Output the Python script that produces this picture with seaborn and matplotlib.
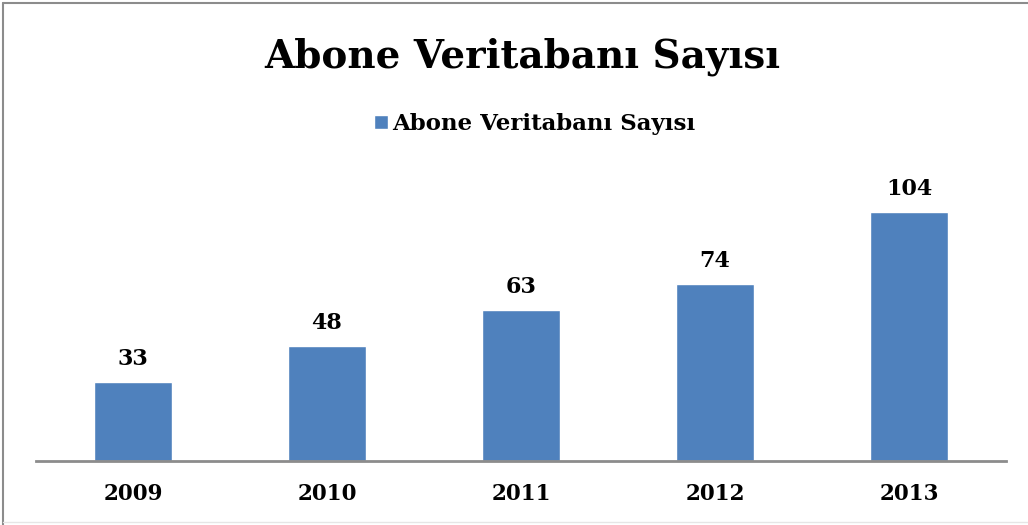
import matplotlib
matplotlib.use("Agg")
import matplotlib.pyplot as plt
import seaborn as sns
import pandas as pd
from matplotlib.lines import Line2D

years = ["2009", "2010", "2011", "2012", "2013"]
counts = [33, 48, 63, 74, 104]
series_name = "Abone Veritabanı Sayısı"
title = "Abone Veritabanı Sayısı"

sns.set_style("white")
plt.rcParams["font.family"] = ["DejaVu Serif"]
plt.rcParams["font.weight"] = "bold"
plt.rcParams["text.color"] = "black"
plt.rcParams["xtick.color"] = "black"

df = pd.DataFrame({"year": years, "count": counts})

fig = plt.figure(figsize=(10.28, 5.25), dpi=100)
ax = fig.add_axes([36 / 1028, 64 / 525, 970 / 1028, 287 / 525])

sns.barplot(data=df, x="year", y="count", color="#4F81BD", saturation=1,
            width=0.4, ax=ax, label=series_name)
ax.set_ylim(0, 120)
ax.set_xlim(-0.5, 4.5)

# value labels above bars
ax.bar_label(ax.containers[0], fontsize=16, fontweight="bold", padding=9,
             color="black")

for s in ["top", "right", "left"]:
    ax.spines[s].set_visible(False)
ax.spines["bottom"].set_color("#8C8C8C")
ax.spines["bottom"].set_linewidth(2)
ax.set_yticks([])
ax.set_xlabel("")
ax.set_ylabel("")
ax.tick_params(axis="x", length=0, labelsize=15.5, pad=16, labelcolor="black")
for t in ax.get_xticklabels():
    t.set_fontweight("bold")

fig.text(0.508, 1 - 57 / 525, title, ha="center", va="center",
         fontsize=28, fontweight="bold", color="black")

handles, labels = ax.get_legend_handles_labels()
leg = fig.legend(handles, labels, loc="center", bbox_to_anchor=(0.52, 1 - 124 / 525),
                 frameon=False, handlelength=0.6, handleheight=0.6,
                 handletextpad=0.2, prop={"weight": "bold", "size": 16.5})
for t in leg.get_texts():
    t.set_color("black")
if ax.get_legend():
    ax.get_legend().remove()

# outer chart border (left and top dark, bottom faint)
fig.add_artist(Line2D([3 / 1028, 3 / 1028], [0, 1 - 3 / 525], transform=fig.transFigure,
                      color="#8C8C8C", linewidth=1.5))
fig.add_artist(Line2D([3 / 1028, 1], [1 - 3 / 525, 1 - 3 / 525], transform=fig.transFigure,
                      color="#8C8C8C", linewidth=1.5))
fig.add_artist(Line2D([3 / 1028, 1], [3 / 525, 3 / 525], transform=fig.transFigure,
                      color="#E6E6E6", linewidth=1))

fig.savefig("out.png", dpi=100)
